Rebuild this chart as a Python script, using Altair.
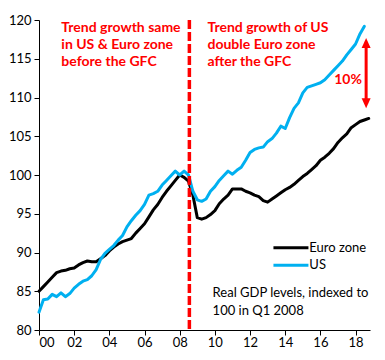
import altair as alt
import pandas as pd

# ---- data ----
series_names = ["Euro zone", "US"]
series_colors = ["#000000", "#00B0F0"]
start_year = 2000

euro = [
    85.0, 85.6, 86.2, 86.8,
    87.4, 87.6, 87.7, 87.9,
    88.0, 88.4, 88.7, 88.9,
    88.8, 88.8, 89.2, 89.6,
    90.2, 90.7, 91.1, 91.4,
    91.6, 91.8, 92.5, 93.1,
    93.7, 94.6, 95.5, 96.2,
    97.1, 97.9, 98.6, 99.3,
    100.0, 99.7, 99.2, 97.4,
    94.5, 94.3, 94.5, 94.9,
    95.4, 96.3, 96.9, 97.4,
    98.2, 98.2, 98.2, 97.9,
    97.7, 97.4, 97.2, 96.7,
    96.5, 96.9, 97.3, 97.7,
    98.1, 98.4, 98.8, 99.3,
    99.8, 100.2, 100.7, 101.2,
    101.9, 102.3, 102.8, 103.4,
    104.2, 104.8, 105.3, 106.1,
    106.5, 106.9, 107.1, 107.3,
]
us = [
    82.3, 83.9, 84.0, 84.6,
    84.3, 84.8, 84.3, 84.7,
    85.4, 85.9, 86.3, 86.5,
    87.0, 87.8, 89.1, 89.9,
    90.4, 90.9, 91.6, 92.2,
    93.3, 94.1, 94.8, 95.4,
    96.2, 97.4, 97.6, 97.9,
    98.7, 99.3, 99.9, 100.5,
    100.0, 100.5, 100.0, 97.9,
    96.8, 96.6, 96.9, 97.9,
    98.5, 99.3, 99.9, 100.5,
    100.1, 100.6, 101.0, 101.9,
    102.9, 103.3, 103.5, 103.6,
    104.3, 104.7, 105.4, 106.3,
    106.0, 107.4, 108.6, 109.3,
    110.6, 111.3, 111.5, 111.7,
    111.9, 112.3, 112.9, 113.5,
    114.1, 114.7, 115.5, 116.2,
    116.9, 118.2, 119.2,
]

x_ticks = [2000, 2002, 2004, 2006, 2008, 2010, 2012, 2014, 2016, 2018]
y_ticks = [80, 85, 90, 95, 100, 105, 110, 115, 120]
x_domain = [2000, 2018.82]
y_domain = [80, 120]

gfc_line = {"x": [2008.55], "y": [120], "y2": [80]}

ann_text = [
    "Trend growth same", "in US & Euro zone", "before the GFC",
    "Trend growth of US", "double Euro zone", "after the GFC",
]
ann_x = [2001.27, 2001.27, 2001.27, 2009.58, 2009.58, 2009.58]
ann_y = [118.51, 116.27, 114.05, 118.51, 116.27, 114.05]

note_text = ["Real GDP levels, indexed to", "100 in Q1 2008"]
note_x = [2009.87, 2009.87]
note_y = [84.2, 82.0]

# hand-made legend (line sample + label), in data units
legend_x1 = [2013.33, 2013.33]
legend_x2 = [2015.32, 2015.32]
legend_y = [90.61, 88.37]
legend_text_x = [2015.37, 2015.37]

gap_label = {"t": ["10%"], "x": [2017.57], "y": [111.72]}
arrow = {"x": [2018.6], "top": [117.67], "bottom": [108.62]}

# ---- build tables ----
rows = []
for name, vals in zip(series_names, [euro, us]):
    for i, v in enumerate(vals):
        rows.append({"t": start_year + i / 4, "v": v, "s": name})
df = pd.DataFrame(rows)

leg_df = pd.DataFrame({"s": series_names, "x1": legend_x1, "x2": legend_x2,
                       "y": legend_y, "tx": legend_text_x})

FONT = "Lato"
RED = "#FF0000"
xs = alt.Scale(domain=x_domain, nice=False, zero=False)
ys = alt.Scale(domain=y_domain, nice=False, zero=False)
cs = alt.Scale(domain=series_names, range=series_colors)

X_AXIS = dict(
    values=x_ticks, title=None, grid=False, labelOverlap=False,
    labelExpr="(datum.value % 100) < 10 ? '0' + (datum.value % 100) : '' + (datum.value % 100)",
    labelPadding=1, tickSize=5)
Y_AXIS = dict(values=y_ticks, title=None, grid=False, labelOverlap=False,
              labelPadding=3, tickSize=5)


def X(field):
    return alt.X(field, scale=xs, axis=alt.Axis(**X_AXIS))


def Y(field):
    return alt.Y(field, scale=ys, axis=alt.Axis(**Y_AXIS))


lines = alt.Chart(df).mark_line(strokeWidth=3, strokeJoin="round", strokeCap="round").encode(
    x=X("t:Q"), y=Y("v:Q"),
    color=alt.Color("s:N", scale=cs, legend=None),
)

leg_lines = alt.Chart(leg_df).mark_rule(strokeWidth=3).encode(
    x=X("x1:Q"), x2="x2:Q", y=Y("y:Q"),
    color=alt.Color("s:N", scale=cs, legend=None))
leg_text = alt.Chart(leg_df).mark_text(
    align="left", baseline="middle", font=FONT, fontSize=13, color="#000000").encode(
    x=X("tx:Q"), y=Y("y:Q"), text="s:N")

vline = alt.Chart(pd.DataFrame(gfc_line)).mark_rule(
    color=RED, strokeWidth=3.5, strokeDash=[9, 3]).encode(
    x=X("x:Q"), y=Y("y:Q"), y2="y2:Q")

ann = alt.Chart(pd.DataFrame({"t": ann_text, "x": ann_x, "y": ann_y})).mark_text(
    align="left", baseline="alphabetic", font=FONT, fontSize=14, fontWeight="bold", color=RED).encode(
    x=X("x:Q"), y=Y("y:Q"), text="t:N")

note = alt.Chart(pd.DataFrame({"t": note_text, "x": note_x, "y": note_y})).mark_text(
    align="left", baseline="alphabetic", font=FONT, fontSize=13, color="#000000").encode(
    x=X("x:Q"), y=Y("y:Q"), text="t:N")

gap = alt.Chart(pd.DataFrame(gap_label)).mark_text(
    align="center", baseline="alphabetic", font=FONT, fontSize=14, fontWeight="bold", color=RED).encode(
    x=X("x:Q"), y=Y("y:Q"), text="t:N")

adf = pd.DataFrame(arrow)
shaft = alt.Chart(adf).mark_rule(color=RED, strokeWidth=3, yOffset=8, y2Offset=-8).encode(
    x=X("x:Q"), y=Y("top:Q"), y2="bottom:Q")
head_up = alt.Chart(adf).mark_point(shape="M0,-1L0.9,1L-0.9,1Z", size=100, filled=True,
                                    color=RED, opacity=1, strokeWidth=0, yOffset=5).encode(
    x=X("x:Q"), y=Y("top:Q"))
head_down = alt.Chart(adf).mark_point(shape="M0,1L0.9,-1L-0.9,-1Z", size=100, filled=True,
                                      color=RED, opacity=1, strokeWidth=0, yOffset=-5).encode(
    x=X("x:Q"), y=Y("bottom:Q"))

chart = alt.layer(lines, vline, leg_lines, leg_text, ann, note, gap, shaft, head_up, head_down).properties(
    width=331, height=310,
    autosize=alt.AutoSizeParams(type="none"),
    padding={"left": 31, "top": 12, "right": 7, "bottom": 20},
    background="#FFFFFF",
).configure_view(stroke=None).configure_axis(
    domainColor="#000000", tickColor="#000000", labelColor="#000000",
    labelFont=FONT, labelFontSize=13, domainWidth=1, tickWidth=1, labelOverlap=False,
)

chart.save("out.html", embed_options={"renderer": "svg", "actions": False})
